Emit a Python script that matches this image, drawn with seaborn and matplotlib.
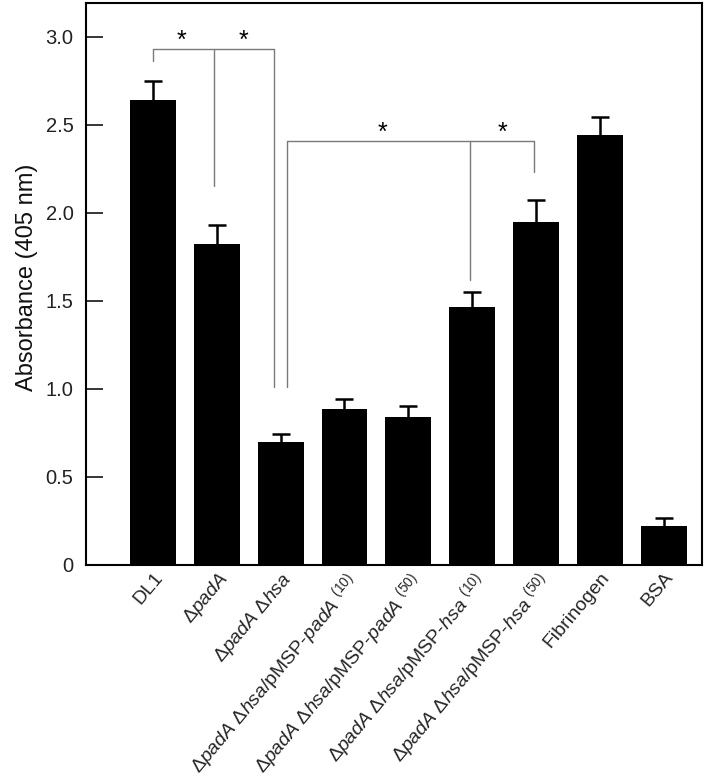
import matplotlib
matplotlib.use('Agg')
import matplotlib.pyplot as plt
import seaborn as sns
import numpy as np
import pandas as pd

# strains / controls and measured absorbance (mean, upper error)
groups = ['DL1', 'padA', 'padA hsa', 'padA hsa/pMSP-padA 10', 'padA hsa/pMSP-padA 50',
          'padA hsa/pMSP-hsa 10', 'padA hsa/pMSP-hsa 50', 'Fibrinogen', 'BSA']
tick_labels = [
    'DL1',
    'Δ$\\mathit{padA}$',
    'Δ$\\mathit{padA}$ Δ$\\mathit{hsa}$',
    'Δ$\\mathit{padA}$ Δ$\\mathit{hsa}$/pMSP-$\\mathit{padA}$ ${}^{(10)}$',
    'Δ$\\mathit{padA}$ Δ$\\mathit{hsa}$/pMSP-$\\mathit{padA}$ ${}^{(50)}$',
    'Δ$\\mathit{padA}$ Δ$\\mathit{hsa}$/pMSP-$\\mathit{hsa}$ ${}^{(10)}$',
    'Δ$\\mathit{padA}$ Δ$\\mathit{hsa}$/pMSP-$\\mathit{hsa}$ ${}^{(50)}$',
    'Fibrinogen',
    'BSA',
]
means = [2.64, 1.82, 0.70, 0.885, 0.84, 1.465, 1.95, 2.44, 0.22]
errs = [0.11, 0.11, 0.045, 0.06, 0.06, 0.085, 0.12, 0.105, 0.047]

# significance brackets: bar height of bracket, legs (x, lower end), star x positions
br1_y = 2.93
br1_legs = [(0.0, 2.86), (0.95, 2.15), (1.9, 1.01)]
br1_stars = [0.45, 1.42]
br2_y = 2.41
br2_legs = [(2.1, 1.01), (4.97, 1.62), (5.97, 2.23)]
br2_stars = [3.6, 5.47]

yticks = [0, 0.5, 1.0, 1.5, 2.0, 2.5, 3.0]
ytick_labels = ['0', '0.5', '1.0', '1.5', '2.0', '2.5', '3.0']

sns.set_theme(style='ticks')
plt.rcParams['font.family'] = ['Liberation Sans', 'DejaVu Sans']
plt.rcParams['mathtext.fontset'] = 'custom'
plt.rcParams['mathtext.rm'] = 'Liberation Sans'
plt.rcParams['mathtext.it'] = 'Liberation Sans:italic'
plt.rcParams['mathtext.bf'] = 'Liberation Sans:bold'

df = pd.DataFrame({'group': groups, 'absorbance': means, 'err': errs})

fig = plt.figure(figsize=(7.09, 7.82), dpi=100)
ax = fig.add_axes([0.1213, 0.2775, 0.990 - 0.1213, 0.996 - 0.2775])

sns.barplot(data=df, x='group', y='absorbance', color='black', saturation=1,
            width=0.72, errorbar=None, linewidth=0, ax=ax)
eb = ax.errorbar(np.arange(len(groups)), df['absorbance'],
                 yerr=[np.zeros(len(groups)), df['err']], fmt='none',
                 ecolor='black', elinewidth=1.8, capsize=6.5, capthick=1.8)
eb[1][0].set_visible(False)  # no lower cap

# brackets
gray = '#7a7a7a'
for y, legs, stars in [(br1_y, br1_legs, br1_stars), (br2_y, br2_legs, br2_stars)]:
    xs = [l[0] for l in legs]
    ax.plot([min(xs), max(xs)], [y, y], color=gray, lw=1.0)
    for x, lo in legs:
        ax.plot([x, x], [lo, y], color=gray, lw=1.0)
    for sx in stars:
        ax.text(sx, y + 0.005, '*', ha='center', va='baseline', fontsize=18, color='black')

ax.set_xlim(-1.05, 8.6)
ax.set_ylim(0, 3.19)
ax.set_yticks(yticks)
ax.set_yticklabels(ytick_labels)
ax.set_xticks(range(len(groups)))
ax.set_xticklabels(tick_labels, rotation=50, ha='right', rotation_mode='anchor')
ax.set_xlabel('')
ax.set_ylabel('Absorbance (405 nm)', fontsize=17, color='#111111')
ax.yaxis.set_label_coords(-0.078, 0.512)

ax.tick_params(axis='y', direction='in', length=12.5, width=1.3, labelsize=14.5,
               pad=9, labelcolor='#222222')
ax.tick_params(axis='x', length=0, labelsize=14, pad=3)
for s in ax.spines.values():
    s.set_visible(True)
    s.set_linewidth(1.5)
    s.set_color('black')

fig.savefig('out.png', dpi=100)
